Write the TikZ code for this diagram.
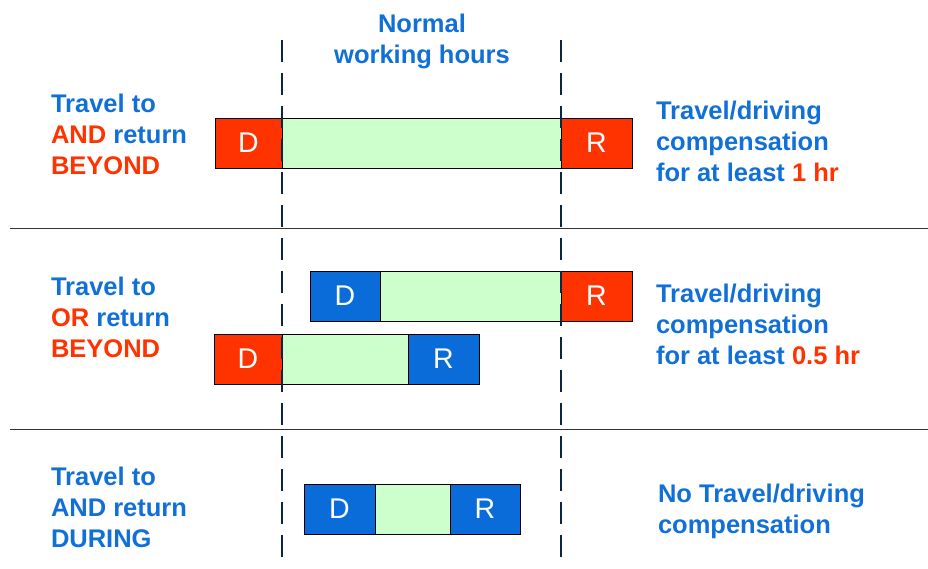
\documentclass[tikz,border=0pt]{standalone}
\usepackage{fontspec}
\setmainfont{Liberation Sans}
\definecolor{txtblue}{HTML}{1170D8}
\definecolor{txtred}{HTML}{FF3300}
\definecolor{boxblue}{HTML}{0A6CD9}
\definecolor{boxred}{HTML}{FF3300}
\definecolor{boxgreen}{HTML}{CCFFCC}
\definecolor{navy}{HTML}{0C2542}
\tikzset{
  seg/.style={draw=black, line width=0.8pt, inner sep=0pt, outer sep=0pt, anchor=north west,
    minimum height=50pt, text=white, font=\fontsize{28.5}{30}\selectfont},
  dbox/.style={seg, fill=boxred},
  bbox/.style={seg, fill=boxblue},
  gbox/.style={seg, fill=boxgreen},
  lbl/.style={inner sep=0pt, outer sep=0pt, anchor=west, align=left, text=txtblue,
    font=\fontsize{25.5}{31}\selectfont\bfseries},
  sep/.style={draw=black!80, line width=0.8pt},
  hours/.style={draw=navy, line width=2.8pt, dash pattern=on 22pt off 11pt},
}
\newcommand{\rd}[1]{\textcolor{txtred}{#1}}
\begin{document}
\begin{tikzpicture}[x=1pt,y=-1pt]
\useasboundingbox (0,0) rectangle (928,568);
% separators
\coordinate (s1a) at (10,228); \coordinate (s1b) at (928,228);
\coordinate (s2a) at (10,429); \coordinate (s2b) at (928,429);
\draw[sep] (s1a) -- (s1b);
\draw[sep] (s2a) -- (s2b);
% row 1
\node[dbox, minimum width=67pt] (d1) at (215,118) {D};
\node[gbox, minimum width=279pt] (g1) at (282,118) {};
\node[dbox, minimum width=71pt] (r1) at (561,118) {R};
% row 2 top
\node[bbox, minimum width=70pt] (d2) at (310,271) {D};
\node[gbox, minimum width=181pt] (g2) at (380,271) {};
\node[dbox, minimum width=71pt] (r2) at (561,271) {R};
% row 2 bottom
\node[dbox, minimum width=68pt] (d3) at (214,334) {D};
\node[gbox, minimum width=126pt] (g3) at (282,334) {};
\node[bbox, minimum width=71pt] (r3) at (408,334) {R};
% row 3
\node[bbox, minimum width=71pt] (d4) at (304,484) {D};
\node[gbox, minimum width=75pt] (g4) at (375,484) {};
\node[bbox, minimum width=70pt] (r4) at (450,484) {R};
% normal hours lines
\coordinate (h1a) at (282,40); \coordinate (h1b) at (282,568);
\coordinate (h2a) at (561,40); \coordinate (h2b) at (561,568);
\draw[hours] (h1a) -- (h1b);
\draw[hours] (h2a) -- (h2b);
% title
\node[lbl, anchor=center, align=center] (title) at (422,41) {Normal\\working hours};
% left labels
\node[lbl] (l1) at (51,134) {Travel to\\\rd{AND} return\\\rd{BEYOND}};
\node[lbl] (l2) at (51,317) {Travel to\\\rd{OR} return\\\rd{BEYOND}};
\node[lbl] (l3) at (51,507) {Travel to\\AND return\\DURING};
% right labels
\node[lbl] (c1) at (656,141) {Travel/driving\\compensation\\for at least \rd{1 hr}};
\node[lbl] (c2) at (656,324) {Travel/driving\\compensation\\for at least \rd{0.5 hr}};
\node[lbl] (c3) at (658,511) {No Travel/driving\\compensation};
\end{tikzpicture}
\end{document}
